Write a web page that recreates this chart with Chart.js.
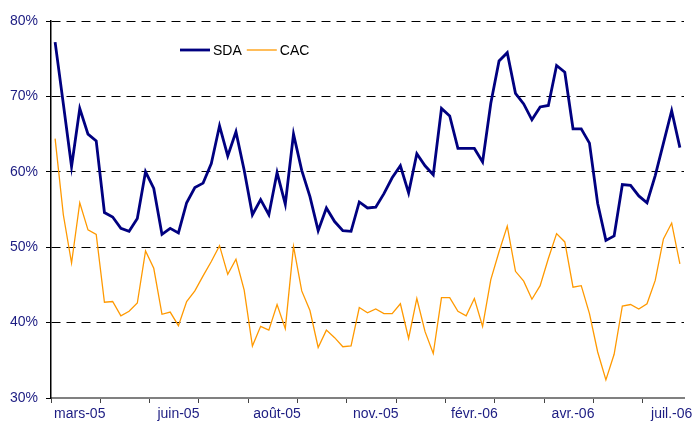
<!DOCTYPE html>
<html>
<head>
<meta charset="utf-8">
<script src="https://cdn.jsdelivr.net/npm/chart.js@4/dist/chart.umd.min.js"></script>
<style>
  html, body { margin:0; padding:0; background:#fff; }
  #wrap { width:693px; height:429px; }
</style>
</head>
<body>
<div id="wrap"><canvas id="chart" width="693" height="429"></canvas></div>
<script>
/* ============================================================
 * SDA vs CAC : weekly series, mars-05 -> juil.-06
 * ============================================================ */
const N_POINTS = 77;
// month labels shown under the axis, keyed by category index
const MONTH_LABELS = { 3:'mars-05', 15:'juin-05', 27:'août-05', 39:'nov.-05', 51:'févr.-06', 63:'avr.-06', 75:'juil.-06' };
const categories = Array.from({ length: N_POINTS }, (_, i) => MONTH_LABELS[i] || '');

const sda = [77.2,69.0,60.7,68.4,65.0,64.1,54.6,54.0,52.5,52.1,53.8,60.0,57.8,51.7,52.5,51.9,55.9,57.9,58.5,61.1,
  66.1,62.1,65.3,60.2,54.3,56.3,54.3,59.9,55.7,65.0,60.2,56.7,52.2,55.2,53.4,52.2,52.1,56.0,55.2,55.3,
  57.1,59.2,60.8,57.2,62.4,60.8,59.6,68.4,67.4,63.1,63.1,63.1,61.3,69.1,74.7,75.8,70.4,69.0,66.9,68.6,
  68.8,74.1,73.2,65.7,65.7,63.8,55.8,50.9,51.5,58.3,58.2,56.8,55.9,59.5,63.8,68.1,63.2];

const cac = [64.4,54.3,47.9,55.9,52.3,51.7,42.7,42.8,40.9,41.5,42.6,49.5,47.2,41.1,41.4,39.6,42.8,44.2,46.2,48.1,
  50.2,46.4,48.4,44.3,36.9,39.5,39.0,42.4,39.2,50.1,44.2,41.6,36.7,39.0,38.0,36.8,36.9,42.0,41.3,41.8,
  41.2,41.2,42.5,37.9,43.2,38.8,35.9,43.3,43.3,41.5,40.9,43.2,39.5,45.7,49.4,52.8,46.8,45.5,43.1,44.9,
  48.5,51.8,50.7,44.7,44.9,41.2,36.1,32.4,35.8,42.2,42.4,41.8,42.5,45.6,51.1,53.2,47.8];

const Y_MIN = 30, Y_MAX = 80, Y_STEP = 10;
const TICK_EVERY = 6;

const FONT = 'Liberation Sans, Arial, sans-serif';
const AXIS_TEXT = '#1c1c82';

// legend drawn inside the plot, like the original
const inlineLegend = {
  id: 'inlineLegend',
  afterDraw(chart) {
    const ctx = chart.ctx;
    let x = 180;
    const y = 50;
    ctx.save();
    ctx.font = '14px ' + FONT;
    ctx.textBaseline = 'middle';
    chart.data.datasets.forEach((ds) => {
      ctx.strokeStyle = ds.borderColor;
      ctx.lineWidth = ds.borderWidth;
      ctx.beginPath(); ctx.moveTo(x, y); ctx.lineTo(x + 30, y); ctx.stroke();
      ctx.fillStyle = '#000';
      ctx.fillText(ds.label, x + 33, y + 1);
      x += 33 + ctx.measureText(ds.label).width + 5;
    });
    ctx.restore();
  }
};

new Chart(document.getElementById('chart'), {
  type: 'line',
  data: {
    labels: categories,
    datasets: [
      { label:'SDA', data:sda, borderColor:'#000080', borderWidth:2.8, pointRadius:0, tension:0, fill:false },
      { label:'CAC', data:cac, borderColor:'#ff9900', borderWidth:1.3, pointRadius:0, tension:0, fill:false },
    ]
  },
  options: {
    responsive:false, animation:false,
    layout: { padding:{ left:0, right:9, top:21, bottom:0 } },
    plugins: { legend:{ display:false }, tooltip:{ enabled:false } },
    scales: {
      x: {
        type:'category', offset:true,
        afterFit(s) { s.height = 31; },
        grid: { offset:true, drawOnChartArea:false, drawTicks:true, tickLength:5,
          color:(c) => (c.index !== undefined && c.index % TICK_EVERY === 0) ? '#444' : 'rgba(0,0,0,0)' },
        border: { color:'#808080', width:2 },
        ticks: { autoSkip:false, maxRotation:0, padding:3, color:AXIS_TEXT, font:{ family:FONT, size:14 } }
      },
      y: {
        min:Y_MIN, max:Y_MAX,
        afterFit(s) { s.width = 51; },
        grid: { color:(c) => c.tick && c.tick.value === Y_MIN ? 'rgba(0,0,0,0)' : '#000', lineWidth:1, tickLength:5, tickColor:'#000' },
        border: { color:'#000', width:1.5, dash:[9,6] },
        ticks: { stepSize:Y_STEP, padding:8, color:AXIS_TEXT, font:{ family:FONT, size:14 }, callback:(v) => v + '%' }
      }
    }
  },
  plugins: [inlineLegend]
});
</script>
</body>
</html>
